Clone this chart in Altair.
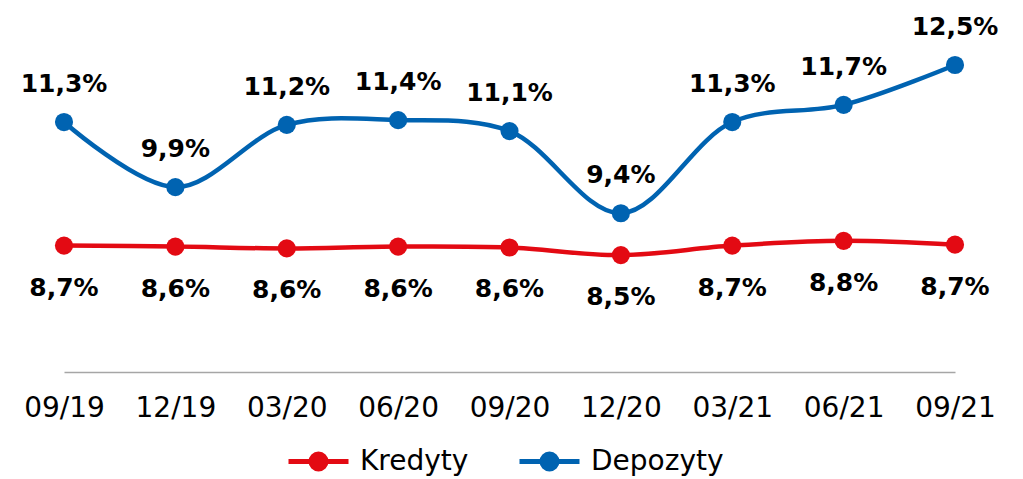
import altair as alt
import pandas as pd

periods = ["09/19", "12/19", "03/20", "06/20", "09/20", "12/20", "03/21", "06/21", "09/21"]
kredyty = [8.70, 8.68, 8.64, 8.68, 8.66, 8.50, 8.70, 8.80, 8.72]
kredyty_labels = ["8,7%", "8,6%", "8,6%", "8,6%", "8,6%", "8,5%", "8,7%", "8,8%", "8,7%"]
depozyty = [11.30, 9.93, 11.24, 11.34, 11.11, 9.38, 11.30, 11.66, 12.50]
depozyty_labels = ["11,3%", "9,9%", "11,2%", "11,4%", "11,1%", "9,4%", "11,3%", "11,7%", "12,5%"]

series_names = ["Kredyty", "Depozyty"]
colors = ["#E30A13", "#0063B1"]

rows = []
for p, v, l in zip(periods, kredyty, kredyty_labels):
    rows.append({"okres": p, "seria": "Kredyty", "wartosc": v, "etykieta": l})
for p, v, l in zip(periods, depozyty, depozyty_labels):
    rows.append({"okres": p, "seria": "Depozyty", "wartosc": v, "etykieta": l})
df = pd.DataFrame(rows)

FONT = "DejaVu Sans"

x = alt.X("okres:O", sort=periods, scale=alt.Scale(type="point", padding=0),
          axis=alt.Axis(title=None, labelAngle=0, ticks=False, domainColor="#A6A6A6",
                        domainWidth=1.5, labelFont=FONT, labelFontSize=28,
                        labelColor="#000000", labelPadding=22, grid=False))
y = alt.Y("wartosc:Q", scale=alt.Scale(domain=[6.04, 13.7], nice=False, zero=False),
          axis=None)

def circle(r):
    return f"M{r},0A{r},{r},0,1,1,-{r},0A{r},{r},0,1,1,{r},0Z"

# legend glyph: a line with a solid dot (concentric stroked rings fill the dot)
symbol_path = "M-1,0L1,0" + circle(0.25) + circle(0.12) + circle(0.03)

color_scale = alt.Scale(domain=series_names, range=colors)

line_color = alt.Color("seria:N", scale=color_scale,
                       legend=alt.Legend(title=None, orient="none", direction="horizontal",
                                         legendX=222, legendY=421,
                                         symbolType=symbol_path, symbolSize=3600,
                                         symbolStrokeWidth=5,
                                         labelFont=FONT, labelFontSize=28,
                                         labelColor="#000000",
                                         labelOffset=9, columnPadding=40,
                                         symbolLimit=0))
point_color = alt.Color("seria:N", scale=color_scale, legend=None)

base = alt.Chart(df)

lines = base.mark_line(interpolate="catmull-rom", strokeWidth=4.5).encode(
    x=x, y=y, color=line_color)
points = base.mark_point(size=330, filled=True, opacity=1).encode(
    x=x, y=y, color=point_color)

def labels(name, dy):
    sub = base.transform_filter(alt.datum.seria == name)
    halo = sub.mark_text(font=FONT, fontWeight="bold", fontSize=25, dy=dy,
                         stroke="white", strokeWidth=9, strokeJoin="round",
                         fill="white").encode(x=x, y=y, text="etykieta:N")
    txt = sub.mark_text(font=FONT, fontWeight="bold", fontSize=25, dy=dy,
                        color="#000000").encode(x=x, y=y, text="etykieta:N")
    return halo + txt

chart = alt.layer(lines, points, labels("Depozyty", -38), labels("Kredyty", 42)).resolve_scale(
    color="independent"
).properties(
    width=891, height=364,
    autosize=alt.AutoSizeParams(type="none"),
    padding={"left": 56, "top": 0, "right": 60, "bottom": 107},
).configure_view(stroke=None)

chart.save("out.html", embed_options={"renderer": "svg", "actions": False})
